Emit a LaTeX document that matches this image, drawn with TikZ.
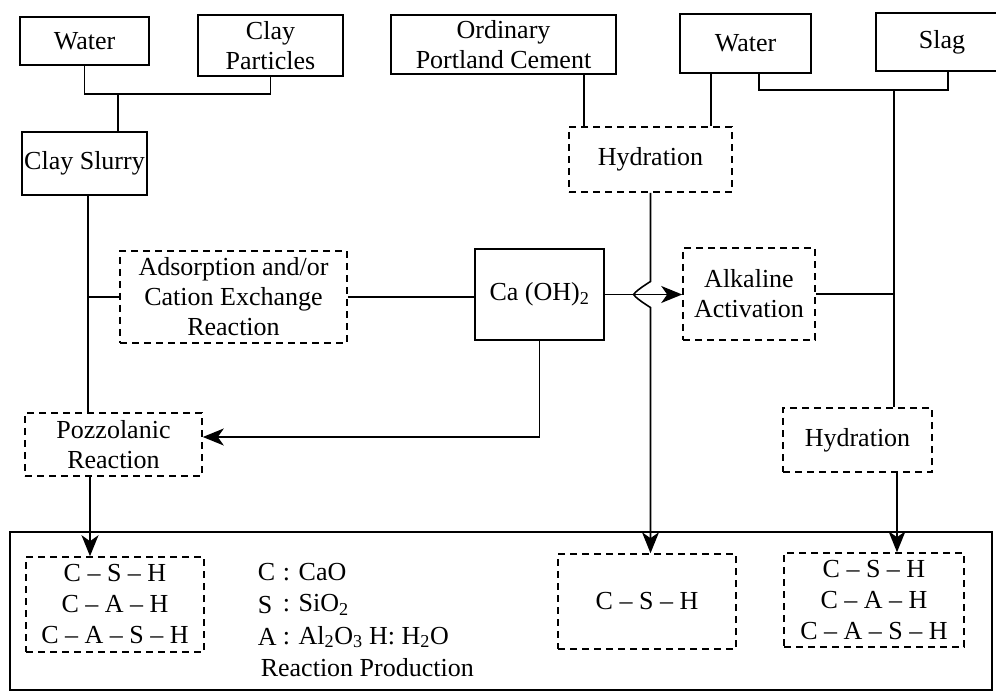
\documentclass[tikz,border=0pt]{standalone}
\usepackage{fontspec}
\setmainfont{Liberation Serif}
\usetikzlibrary{arrows.meta,calc}
\begin{document}
\begin{tikzpicture}[x=1pt,y=-1pt,
  font=\fontsize{26}{30}\selectfont,
  line width=1.6pt,
  solidbox/.style={draw, rectangle, align=center, inner sep=0pt},
  dashbox/.style={draw, rectangle, align=center, inner sep=0pt, dash pattern=on 7pt off 5pt},
  prodbox/.style={dashbox, font=\fontsize{26}{31}\selectfont},
  arr/.style={-{Stealth[length=21pt,width=17pt,inset=6pt]}},
  leg/.style={anchor=west, inner sep=0pt}]
\clip (0,0) rectangle (996,692);
% top row
\node[solidbox, minimum width=129pt, minimum height=48pt] (w1) at (84.5,41) {Water};
\node[solidbox, minimum width=145pt, minimum height=61pt] (cp) at (270.5,45.5) {Clay\\Particles};
\node[solidbox, minimum width=225pt, minimum height=59pt] (opc) at (503.5,44.5) {Ordinary\\Portland Cement};
\node[solidbox, minimum width=131pt, minimum height=59pt] (w2) at (745.5,43.5) {Water};
\node[solidbox, minimum width=132pt, minimum height=58pt] (slag) at (942,42) {Slag};
% middle
\node[solidbox, minimum width=125pt, minimum height=63pt] (slurry) at (84.5,163.5) {Clay Slurry};
\node[dashbox, minimum width=163pt, minimum height=65pt] (hyd1) at (650.5,159.5) {Hydration};
\node[dashbox, minimum width=227pt, minimum height=92pt] (ads) at (233.5,297) {Adsorption and/or\\Cation Exchange\\Reaction};
\node[solidbox, minimum width=129pt, minimum height=91pt] (caoh) at (539.5,294.5) {Ca (OH)\textsubscript{2}};
\node[dashbox, minimum width=132pt, minimum height=92pt] (alk) at (749,294) {Alkaline\\Activation};
\node[dashbox, minimum width=177pt, minimum height=63pt] (pozz) at (113.5,444.5) {Pozzolanic\\Reaction};
\node[dashbox, minimum width=149pt, minimum height=64pt] (hyd2) at (857.5,440) {Hydration};
% bottom frame
\node[solidbox, minimum width=982pt, minimum height=158pt] (outer) at (501,611) {};
\node[prodbox, minimum width=178pt, minimum height=95pt] (p1) at (115,604.5) {C – S – H\\C – A – H\\C – A – S – H};
\node[prodbox, minimum width=178pt, minimum height=95pt] (p2) at (647,601.5) {C – S – H};
\node[prodbox, minimum width=180pt, minimum height=94pt] (p3) at (874,600) {C – S – H\\C – A – H\\C – A – S – H};
% legend
\node[leg] (lc) at (257,572) {C};
\node[leg] (ls) at (257,605) {S};
\node[leg] (la) at (257,637) {A};
\node[leg] (lc2) at (282,572) {: CaO};
\node[leg] (ls2) at (282,605) {: SiO\textsubscript{2}};
\node[leg] (la2) at (282,637) {: Al\textsubscript{2}O\textsubscript{3} H: H\textsubscript{2}O};
\node[leg] (lr) at (260,668) {Reaction Production};
% connectors
\coordinate (j1) at (118,94);
\draw (w1.south) |- (j1) -| (cp.south);
\draw (j1) -- (j1 |- slurry.north);
\coordinate (sl) at ($(slurry.south)+(3.5,0)$);
\draw (sl) -- (sl |- pozz.north);
\draw (ads.west) -- (ads.west -| sl);
\draw (ads.east) -- (ads.east -| caoh.west);
\coordinate (pzin) at ($(pozz.east)+(0,-7.5)$);
\draw[arr] (caoh.south) |- (pzin);
\coordinate (pz) at ($(pozz.south)+(-23.5,0)$);
\draw[arr] (pz) -- (pz |- p1.north);
\coordinate (o1) at ($(hyd1.north west)+(16,0)$);
\draw (o1) -- (o1 |- opc.south);
\coordinate (o2) at ($(hyd1.north east)+(-22,0)$);
\draw (o2) -- (o2 |- w2.south);
\coordinate (hx) at (hyd1.south |- caoh.east);
\draw[arr] (hyd1.south) -- ($(hx)+(0,-13)$) .. controls ($(hx)+(-8,-8)$) and ($(hx)+(-15,-3)$) .. ($(hx)+(-17,0)$) .. controls ($(hx)+(-15,3)$) and ($(hx)+(-8,8)$) .. ($(hx)+(0,13)$) -- (hyd1.south |- p2.north);
\draw[arr] (caoh.east) -- (alk.west |- caoh.east);
\coordinate (j2) at (894,90);
\coordinate (w2b) at ($(w2.south)+(13.5,0)$);
\draw (w2b) |- (j2) -| ($(slag.south)+(6,0)$);
\draw (j2) -- (j2 |- hyd2.north);
\draw (alk.east) -- (alk.east -| j2);
\coordinate (h2b) at ($(hyd2.south)+(39.5,0)$);
\draw[arr] (h2b) -- (h2b |- p3.north);
\end{tikzpicture}
\end{document}
